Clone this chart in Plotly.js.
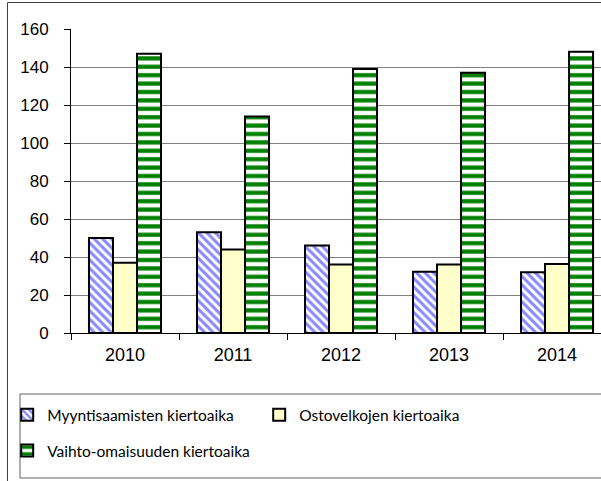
<!DOCTYPE html>
<html>
<head>
<meta charset="utf-8">
<script src="https://cdn.plot.ly/plotly-3.0.1.min.js"></script>
<style>html,body{margin:0;padding:0;background:#fff;}#chart{width:601px;height:481px;}</style>
</head>
<body>
<div id="chart"></div>
<script>
const years = ["2010", "2011", "2012", "2013", "2014"];
const myyntisaamiset = [50, 53, 46, 32.3, 32];
const ostovelat = [37, 44, 36, 36, 36.3];
const vaihtoOmaisuus = [147, 114, 139, 137, 148];
const seriesNames = ["Myyntisaamisten kiertoaika", "Ostovelkojen kiertoaika", "Vaihto-omaisuuden kiertoaika"];
const yTicks = [0, 20, 40, 60, 80, 100, 120, 140, 160];

const lineStyle = {color: "#000000", width: 2};
const traces = [
  {type: "bar", x: years, y: myyntisaamiset, name: seriesNames[0], legend: "legend",
   marker: {color: "#9999FF", line: lineStyle,
            pattern: {shape: "\\", fgcolor: "#8888FF", bgcolor: "#FFFFFF", size: 6, solidity: 0.5}}},
  {type: "bar", x: years, y: ostovelat, name: seriesNames[1], legend: "legend",
   marker: {color: "#FFFFCC", line: lineStyle}},
  {type: "bar", x: years, y: vaihtoOmaisuus, name: seriesNames[2], legend: "legend2",
   marker: {color: "#008000", line: lineStyle,
            pattern: {shape: "-", fgcolor: "#008000", bgcolor: "#FFFFFF", size: 8.4, solidity: 0.5}}}
];

const xTickFont = {family: "Liberation Sans", size: 18, color: "#000000"};
const yTickFont = {family: "Liberation Sans", size: 17, color: "#000000"};
const legFont = {family: "Lato", size: 15.5, color: "#000000"};

const layout = {
  width: 601, height: 481,
  margin: {l: 71, r: 0, t: 29, b: 148, pad: 0},
  paper_bgcolor: "#FFFFFF", plot_bgcolor: "#FFFFFF",
  barmode: "group", bargap: 0.333, bargroupgap: 0,
  showlegend: true,
  xaxis: {
    type: "category", range: [-0.5, 4.407], fixedrange: true,
    showline: true, linecolor: "#000000", linewidth: 1,
    ticks: "outside", ticklen: 6, tickcolor: "#000000", tickson: "boundaries",
    showgrid: false, tickfont: xTickFont, ticklabelstandoff: 5, automargin: false
  },
  yaxis: {
    range: [0, 160], tickvals: yTicks, ticktext: yTicks.map(String), fixedrange: true,
    showline: true, linecolor: "#000000", linewidth: 1,
    ticks: "outside", ticklen: 6, tickcolor: "#000000",
    showgrid: true, gridcolor: "#808080", gridwidth: 1,
    zeroline: false, tickfont: yTickFont, ticklabelstandoff: 12, automargin: false
  },
  legend: {
    orientation: "h", x: -0.1204, xanchor: "left", y: -0.27, yanchor: "middle",
    font: legFont, bgcolor: "rgba(0,0,0,0)", borderwidth: 0,
    entrywidth: 207, entrywidthmode: "pixels", traceorder: "normal"
  },
  legend2: {
    orientation: "h", x: -0.1204, xanchor: "left", y: -0.388, yanchor: "middle",
    font: legFont, bgcolor: "rgba(0,0,0,0)", borderwidth: 0
  },
  shapes: [
    {type: "line", xref: "paper", yref: "paper", x0: -0.1198, x1: 1.1, y0: 1.0872, y1: 1.0872,
     line: {color: "#404040", width: 1}},
    {type: "line", xref: "paper", yref: "paper", x0: -0.1198, x1: -0.1198, y0: 1.0872, y1: -0.6,
     line: {color: "#404040", width: 1}},
    {type: "rect", xref: "paper", yref: "paper", x0: -0.0962, x1: 1.1, y0: -0.477, y1: -0.2007,
     line: {color: "#606060", width: 1}, fillcolor: "rgba(0,0,0,0)"}
  ]
};

Plotly.newPlot("chart", traces, layout, {staticPlot: true, displayModeBar: false});
</script>
</body>
</html>
